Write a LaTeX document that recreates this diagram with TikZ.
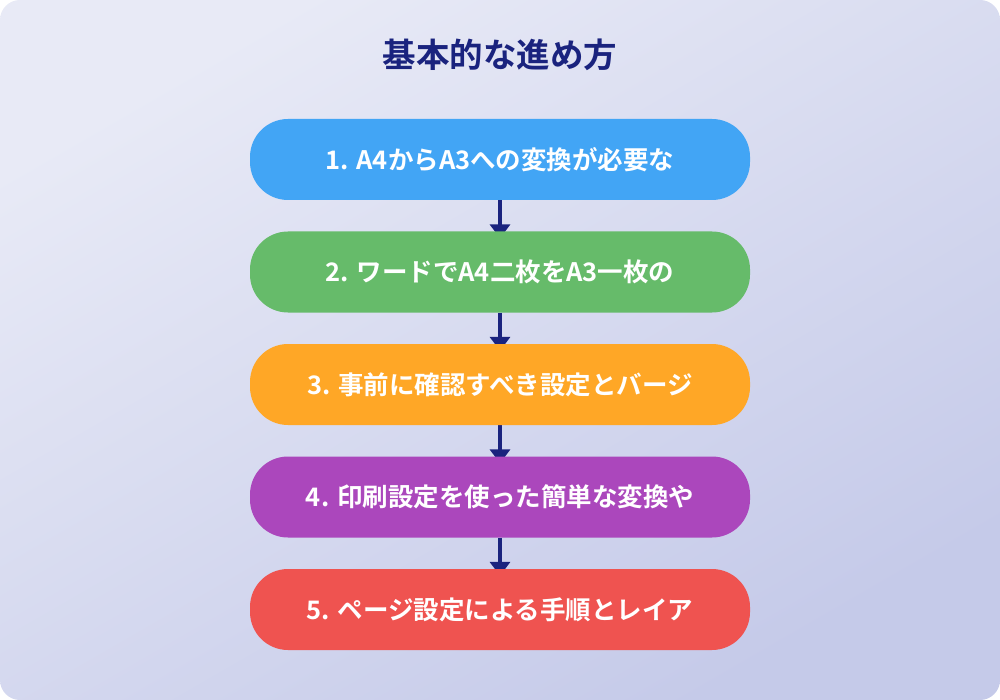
\documentclass[tikz,border=0pt]{standalone}
\usepackage{fontspec}
\newfontfamily\jpfont{Noto Sans CJK JP}[BoldFont={* Bold}]
\usetikzlibrary{arrows.meta}
\pgfdeclarelayer{background}
\pgfdeclarelayer{arrowlayer}
\pgfsetlayers{background,arrowlayer,main}
\definecolor{bgA}{HTML}{E8EAF6}
\definecolor{bgB}{HTML}{C5CAE9}
\definecolor{navy}{HTML}{1A237E}
\definecolor{cA}{HTML}{42A5F5}
\definecolor{cB}{HTML}{66BB6A}
\definecolor{cC}{HTML}{FFA726}
\definecolor{cD}{HTML}{AB47BC}
\definecolor{cE}{HTML}{EF5350}
\tikzset{
  stepbox/.style={draw=none, minimum width=500pt, minimum height=81pt, rounded corners=38pt,
    text=white, font=\jpfont\bfseries\fontsize{25.5}{30}\selectfont, inner sep=0pt},
  flowarrow/.style={draw=navy, line width=3.5pt, -{Triangle[width=20pt,length=14pt]}}
}
\begin{document}
\begin{tikzpicture}[x=1pt,y=-1pt]
\useasboundingbox (0,0) rectangle (1000,700);
\begin{pgfonlayer}{background}
\shade[rounded corners=20pt, top color=bgA, bottom color=bgB, shading angle=30] (0,0) rectangle (1000,700);
\end{pgfonlayer}
\node[font=\jpfont\bfseries\fontsize{33.5}{38}\selectfont, text=navy] (title) at (500,55) {基本的な進め方};
\node[stepbox, fill=cA] (s1) at (500,159.5) {1. A4からA3への変換が必要な};
\node[stepbox, fill=cB] (s2) at (500,272) {2. ワードでA4二枚をA3一枚の};
\node[stepbox, fill=cC] (s3) at (500,384.5) {3. 事前に確認すべき設定とバージ};
\node[stepbox, fill=cD] (s4) at (500,497) {4. 印刷設定を使った簡単な変換や};
\node[stepbox, fill=cE] (s5) at (500,609.5) {5. ページ設定による手順とレイア};
\begin{pgfonlayer}{arrowlayer}
\draw[flowarrow] (s1.south) -- ([yshift=-7pt]s2.north);
\draw[flowarrow] (s2.south) -- ([yshift=-7pt]s3.north);
\draw[flowarrow] (s3.south) -- ([yshift=-7pt]s4.north);
\draw[flowarrow] (s4.south) -- ([yshift=-7pt]s5.north);
\end{pgfonlayer}
\end{tikzpicture}
\end{document}
